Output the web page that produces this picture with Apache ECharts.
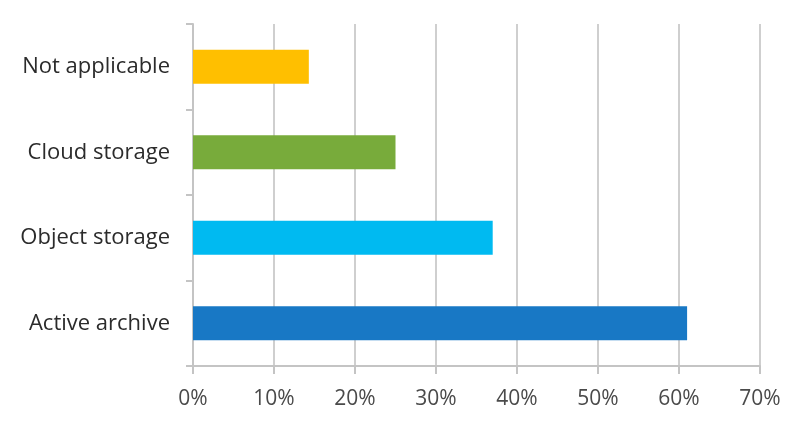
<!DOCTYPE html>
<html><head><meta charset="utf-8">
<script src="https://cdn.jsdelivr.net/npm/echarts@6/dist/echarts.min.js"></script>
<style>html,body{margin:0;padding:0;background:#fff}#c{width:800px;height:426px}</style>
</head><body><div id="c"></div>
<script>
const categories = ["Active archive", "Object storage", "Cloud storage", "Not applicable"];
const values = [61, 37, 25, 14.3];
const barColors = ["#1878C5", "#00BAF1", "#78AB3B", "#FFBF00"];
const xTicks = [0, 10, 20, 30, 40, 50, 60, 70];

const chart = echarts.init(document.getElementById('c'));
chart.setOption({
  animation: false,
  grid: { left: 193, right: 40, top: 24, bottom: 60 },
  xAxis: {
    type: 'value', min: xTicks[0], max: xTicks[xTicks.length - 1], interval: 10,
    axisLine: { show: true, lineStyle: { color: '#c4c4c4', width: 2 } },
    axisTick: { show: true, length: 8, lineStyle: { color: '#c4c4c4', width: 2 } },
    splitLine: { show: true, lineStyle: { color: '#cfcfcf', width: 2 } },
    axisLabel: { formatter: '{value}%', color: '#4a4a4a', fontSize: 21, fontWeight: 500, fontFamily: 'Open Sans', margin: 23 }
  },
  yAxis: {
    type: 'category', data: categories,
    axisLine: { show: true, lineStyle: { color: '#c4c4c4', width: 2 } },
    axisTick: { show: true, length: 7, lineStyle: { color: '#c4c4c4', width: 2 } },
    axisLabel: { color: '#2b2b2b', fontSize: 22, fontWeight: 500, fontFamily: 'Open Sans', margin: 23 }
  },
  series: [{
    type: 'bar', barWidth: '40%',
    data: values.map((v, i) => ({ value: v, itemStyle: { color: barColors[i] } }))
  }]
});
</script></body></html>
